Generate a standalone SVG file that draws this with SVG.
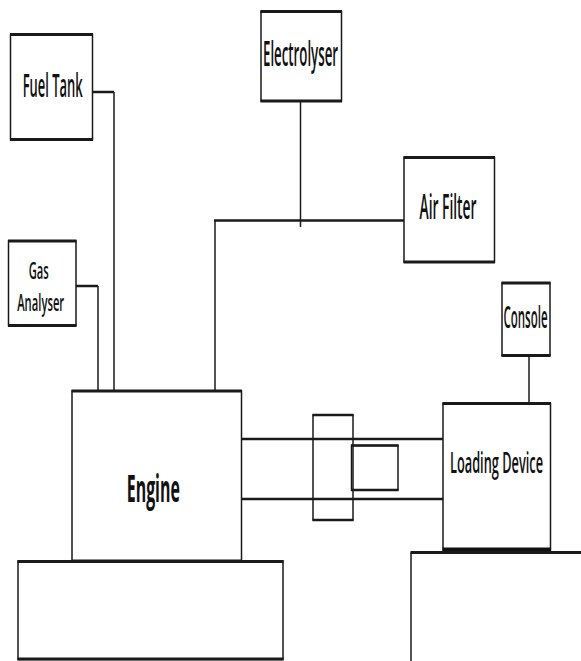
<svg xmlns="http://www.w3.org/2000/svg" width="581" height="661" viewBox="0 0 581 661">
<style>
.box{fill:#fff;stroke:#1a1a1a;stroke-width:1.5}
.h{stroke:#1a1a1a;stroke-width:3;fill:none}
.c{stroke:#1a1a1a;stroke-width:1.5;fill:none}
.ch{stroke:#1a1a1a;stroke-width:2.5;fill:none}
.t{font-family:"Open Sans","Liberation Sans",sans-serif;font-weight:600;fill:#111;text-anchor:middle}
</style>
<rect width="581" height="661" fill="#fff"/>
<g id="connectors">
<path class="ch" d="M92,92 H114"/>
<path class="c" d="M114,92 V396"/>
<path class="ch" d="M76,286 H98"/>
<path class="c" d="M98,286 V396"/>
<path class="c" d="M300.5,101 V227"/>
<path class="ch" d="M214,220.5 H404"/>
<path class="c" d="M215,220.5 V392"/>
<path class="c" d="M529,352 V403"/>
<path class="ch" d="M242,439 H443"/>
<path class="ch" d="M242,499 H443"/>
</g>
<g id="fuel-tank">
<rect class="box" x="10.5" y="34.5" width="82" height="105"/>
<path class="h" d="M10,34.5 H93 M10,139.5 H93"/>
<text class="t" transform="translate(52.7,96.5) scale(1,2.75)" font-size="12" textLength="60" lengthAdjust="spacingAndGlyphs">Fuel Tank</text>
</g>
<g id="electrolyser">
<rect class="box" x="261" y="11.5" width="80.5" height="89.5"/>
<path class="h" d="M260.5,11.5 H342 M260.5,101 H342"/>
<text class="t" transform="translate(300.5,66) scale(1,2.85)" font-size="12" textLength="75" lengthAdjust="spacingAndGlyphs">Electrolyser</text>
</g>
<g id="air-filter">
<rect class="box" x="404" y="157.5" width="90.5" height="104.5"/>
<path class="h" d="M403.5,157.5 H495 M403.5,262 H495"/>
<text class="t" transform="translate(448,219) scale(1,2.85)" font-size="12" textLength="57" lengthAdjust="spacingAndGlyphs">Air Filter</text>
</g>
<g id="gas-analyser">
<rect class="box" x="8.5" y="241" width="67.5" height="84.5"/>
<path class="h" d="M8,241 H76.5 M8,325.5 H76.5"/>
<text class="t" transform="translate(38.7,279) scale(1,2.4)" font-size="10" textLength="20" lengthAdjust="spacingAndGlyphs">Gas</text>
<text class="t" transform="translate(40.7,311) scale(1,2.4)" font-size="10" textLength="47" lengthAdjust="spacingAndGlyphs">Analyser</text>
</g>
<g id="console">
<rect class="box" x="502" y="283" width="48" height="72.5"/>
<path class="h" d="M501.5,283 H550.5 M501.5,355.5 H550.5"/>
<text class="t" transform="translate(525.5,328) scale(1,2.8)" font-size="11" textLength="44" lengthAdjust="spacingAndGlyphs">Console</text>
</g>
<g id="engine">
<rect class="box" x="72" y="391" width="169.5" height="170"/>
<path class="h" d="M71.5,391 H242 M71.5,561 H242"/>
<text class="t" transform="translate(153.3,501.5) scale(1,2.64)" font-size="14" style="font-weight:bold" textLength="53" lengthAdjust="spacingAndGlyphs">Engine</text>
</g>
<g id="coupling">
<rect class="box" x="313" y="415" width="40" height="105" style="fill:none"/>
<path class="ch" d="M312.5,415 H353.5 M312.5,520 H353.5"/>
<rect class="box" x="351.5" y="445.5" width="46.5" height="44.5" style="fill:none"/>
<path class="ch" d="M351,445.5 H398.5 M351,490 H398.5"/>
</g>
<g id="loading-device">
<rect class="box" x="443" y="403.5" width="107.5" height="146.5"/>
<path class="h" d="M442.5,403.5 H551"/>
<path stroke="#111" stroke-width="4" d="M442.5,549.5 H551"/>
<text class="t" transform="translate(496.5,472.5) scale(1,2.42)" font-size="12" textLength="93" lengthAdjust="spacingAndGlyphs">Loading Device</text>
</g>
<g id="engine-base">
<rect class="box" x="18" y="561" width="265" height="98.5" style="fill:none"/>
<path class="h" d="M17.5,561.5 H283.5 M17.5,659 H283.5"/>
</g>
<g id="loading-base">
<path class="c" d="M411,661 V552.5"/>
<path class="h" d="M410.5,552.5 H581"/>
</g>
</svg>
